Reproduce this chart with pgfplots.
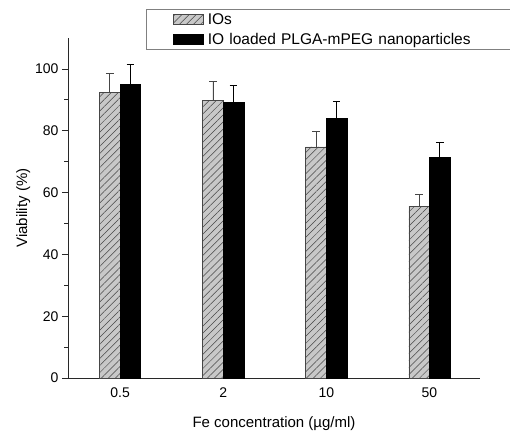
\documentclass[border=0pt]{standalone}
\usepackage{fontspec}
\setmainfont{Liberation Sans}
\usepackage{pgfplots}
\pgfplotsset{compat=1.18}
\usetikzlibrary{patterns.meta}

\definecolor{hatchfill}{RGB}{200,200,200}
\definecolor{hatchline}{RGB}{70,70,70}
\definecolor{axisgray}{RGB}{40,40,40}

\begin{document}
\begin{tikzpicture}
\useasboundingbox (-68pt,-59pt) rectangle (442pt,378pt);
\begin{axis}[
  scale only axis,
  width=412pt, height=340pt,
  ybar=0pt, bar width=20.6pt,
  xmin=-0.505, xmax=3.49,
  ymin=0, ymax=110,
  xtick=data,
  xticklabels={0.5,2,10,50},
  x tick style={draw=none},
  ytick={0,20,...,100},
  minor y tick num=1,
  axis lines*=left,
  axis line style={axisgray, line width=0.7pt},
  y tick style={axisgray, line width=0.7pt},
  tick align=outside,
  major tick length=6pt,
  minor tick length=3.5pt,
  ticklabel style={font=\fontsize{14}{14}\selectfont},
  /pgf/number format/assume math mode=true,
  xlabel={Fe concentration (µg/ml)},
  ylabel={Viability (\%)},
  label style={font=\fontsize{15}{15}\selectfont},
  xlabel style={yshift=-12pt},
  ylabel style={yshift=-2pt},
  legend style={at={(0.189,1.085)}, anchor=north west, draw=gray,
    line width=0.8pt, font=\fontsize{15.5}{15.5}\selectfont,
    row sep=3pt, inner ysep=2pt, inner xsep=27pt,
    nodes={text width=330pt, inner xsep=4pt}},
  legend cell align=left,
  legend image code/.code={\draw[#1] (0pt,-5pt) rectangle (30pt,5pt);},
  error bars/y dir=plus,
  error bars/y explicit,
  error bars/error mark options={rotate=90, mark size=3.8pt, line width=0.8pt},
]
\addplot[draw=hatchline, fill=hatchfill, line width=0.6pt,
  postaction={pattern={Lines[angle=45,distance=5pt,line width=0.5pt]}, pattern color=hatchline},
  error bars/error bar style={hatchline, line width=0.8pt}]
  coordinates {
    (0,92.4) +- (0,6.2)
    (1,89.7) +- (0,6.1)
    (2,74.8) +- (0,5.0)
    (3,55.6) +- (0,3.8)
  };
\addlegendentry{IOs}
\addplot[draw=black, fill=black, line width=0.6pt,
  error bars/error bar style={black, line width=0.8pt}]
  coordinates {
    (0,95.1) +- (0,6.3)
    (1,89.2) +- (0,5.5)
    (2,83.9) +- (0,5.6)
    (3,71.4) +- (0,4.8)
  };
\addlegendentry{IO loaded PLGA-mPEG nanoparticles}
\end{axis}
\end{tikzpicture}
\end{document}
